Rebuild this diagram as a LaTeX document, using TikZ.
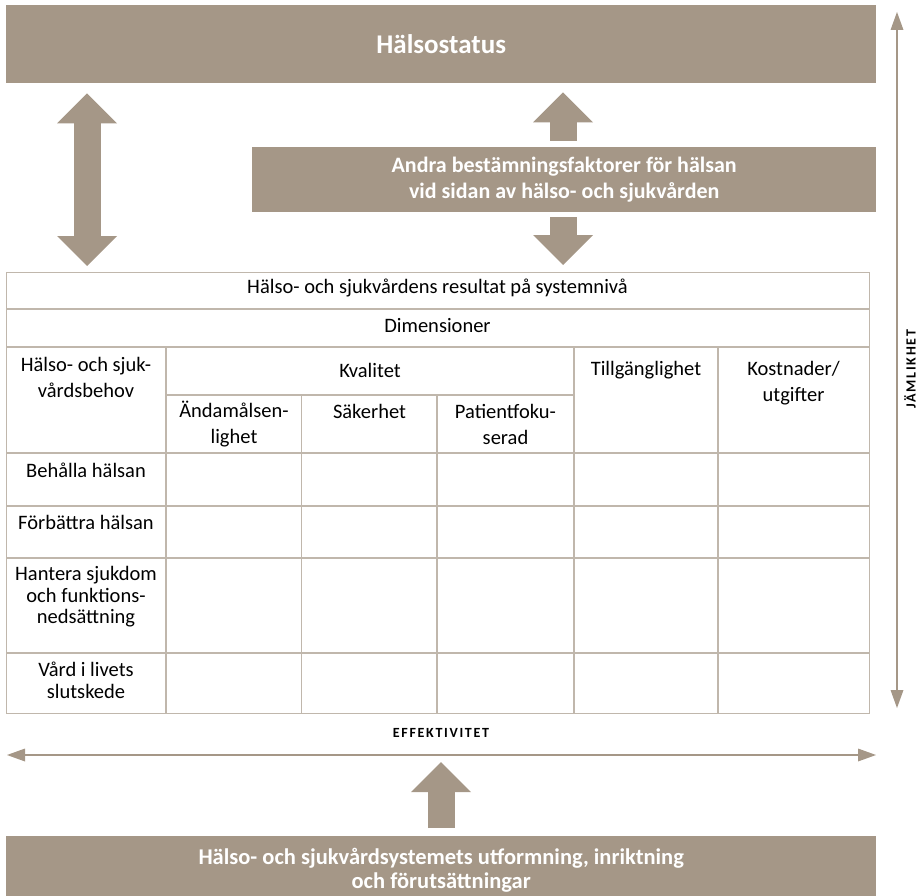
\documentclass[tikz,border=0pt]{standalone}
\usepackage{fontspec}
\setmainfont{Carlito}
\newfontfamily\spacedfont[LetterSpace=12]{Carlito}
\usetikzlibrary{arrows.meta}
\definecolor{hbrown}{RGB}{165,151,135}
\definecolor{hline}{RGB}{192,183,172}
\tikzset{
	bar/.style={fill=hbrown,text=white,font=\bfseries\fontsize{22}{26}\selectfont,align=center,inner sep=0pt,anchor=north west},
	fathead/.tip={Triangle[width=60pt,length=30pt,line width=0pt]},
	thinhead/.tip={Triangle[width=13pt,length=18pt,line width=0pt]},
	fatarrow/.style={draw=hbrown,line width=27pt,-fathead},
	fatboth/.style={draw=hbrown,line width=27pt,fathead-fathead},
	thinboth/.style={draw=hbrown,line width=2.3pt,thinhead-thinhead},
	gridline/.style={draw=hline,line width=1.2pt},
	headcell/.style={font=\fontsize{20.5}{26}\selectfont,align=center,inner sep=0pt},
	rowcell/.style={font=\fontsize{20.5}{21.5}\selectfont,align=center,inner sep=0pt},
	axislabel/.style={font=\spacedfont\bfseries\fontsize{14}{16}\selectfont,inner sep=0pt}
}

\begin{document}
\begin{tikzpicture}[x={(1pt,0)},y={(0,-1pt)}]
	\useasboundingbox (0,0) rectangle (918,896);
	% boxes
	\node[bar,minimum width=870pt,minimum height=78pt,font=\bfseries\fontsize{27}{30}\selectfont] (status) at (6,5) {Hälsostatus};
	\node[bar,minimum width=624pt,minimum height=65pt] (andra) at (252,147) {Andra bestämningsfaktorer för hälsan\\vid sidan av hälso- och sjukvården};
	\node[bar,minimum width=870pt,minimum height=68pt,font=\bfseries\fontsize{22.5}{23.5}\selectfont] (system) at (6,836) {Hälso- och sjukvårdsystemets utformning, inriktning\\och förutsättningar};
	\node[draw=hline,line width=1.2pt,minimum width=863pt,minimum height=441pt,anchor=north west,inner sep=0pt] (tbl) at (6,272) {};
	% table grid
	\foreach \y in {309,347,453,506,558,653}
		\draw[gridline] (6,\y) -- (869,\y);
	\draw[gridline] (166,395) -- (574,395);
	\foreach \x in {166,574,718}
		\draw[gridline] (\x,347) -- (\x,713);
	\foreach \x in {301.5,437}
		\draw[gridline] (\x,395) -- (\x,713);
	% table texts
	\node[headcell] (result) at (437.5,288) {Hälso- och sjukvårdens resultat på systemnivå};
	\node[headcell] (dim) at (437.5,326) {Dimensioner};
	\node[headcell] (behov) at (86,377) {Hälso- och sjuk-\\vårdsbehov};
	\node[headcell] (kval) at (370,370) {Kvalitet};
	\node[headcell] (tillg) at (646,370) {Tillgänglighet};
	\node[headcell] (kostn) at (793.5,383.5) {Kostnader/\\utgifter};
	\node[headcell] (andam) at (234,424.5) {Ändamålsen-\\lighet};
	\node[headcell] (saker) at (369.5,411) {Säkerhet};
	\node[headcell] (patient) at (505.5,424.5) {Patientfoku-\\serad};
	\node[rowcell] (behalla) at (86,470) {Behålla hälsan};
	\node[rowcell] (forbattra) at (86,522) {Förbättra hälsan};
	\node[rowcell] (hantera) at (86,597) {Hantera sjukdom\\och funktions-\\nedsättning};
	\node[rowcell] (vard) at (86,680.5) {Vård i livets\\slutskede};
	% axes
	\coordinate (effL) at (7,755);
	\coordinate (effR) at (876,755);
	\coordinate (effM) at (441,755);
	\coordinate (jamT) at (897,12);
	\coordinate (jamB) at (897,708);
	\coordinate (lcol) at (87,0);
	\coordinate (rcol) at (563,0);
	\draw[thinboth] (effL) -- (effR);
	\draw[thinboth] (jamT) -- (jamB);
	\node[axislabel] (eff) at (441,733) {EFFEKTIVITET};
	\node[axislabel,rotate=90] (jam) at (910,369) {JÄMLIKHET};
	% fat arrows
	\draw[fatboth,shorten <=10pt,shorten >=6pt] (status.south -| lcol) -- (tbl.north -| lcol);
	\draw[fatarrow,shorten <=6pt,shorten >=9pt] (andra.north -| rcol) -- (status.south -| rcol);
	\draw[fatarrow,shorten <=5pt,shorten >=7pt] (andra.south -| rcol) -- (tbl.north -| rcol);
	\draw[fatarrow,shorten <=8pt,shorten >=7pt] (system.north -| effM) -- (effM);
\end{tikzpicture}
\end{document}
